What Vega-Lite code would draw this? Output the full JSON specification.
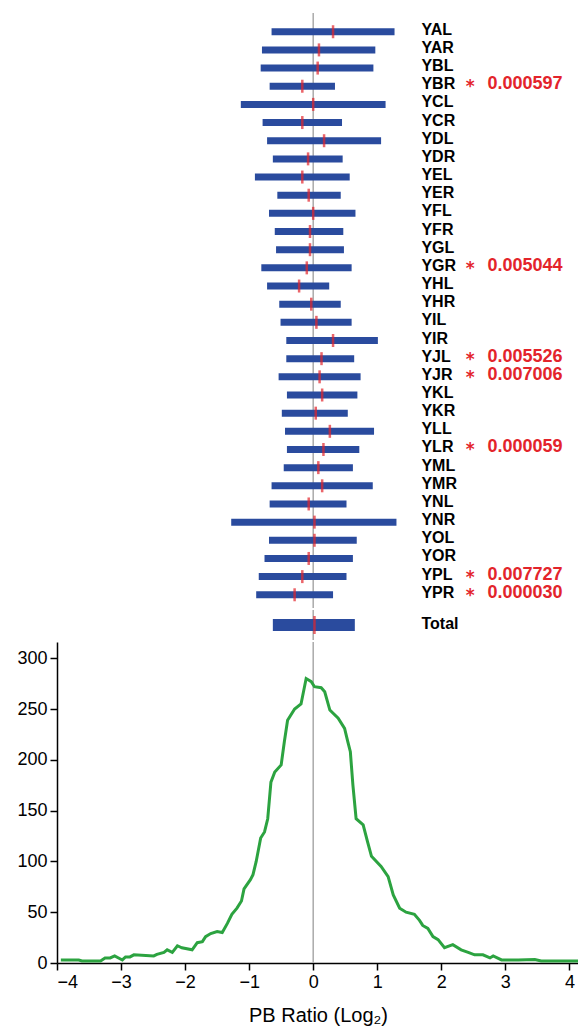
{
  "$schema": "https://vega.github.io/schema/vega-lite/v6.json",
  "padding": {"left": 16, "top": 12, "right": 0, "bottom": 2},
  "spacing": 0,
  "config": {
    "view": {"stroke": null},
    "font": "Liberation Sans",
    "axis": {"grid": false, "domainColor": "#000000", "tickColor": "#000000", "labelColor": "#000000", "titleColor": "#000000", "domainWidth": 1.5, "tickWidth": 1.5, "tickSize": 7, "labelPadding": 3, "labelFontSize": 18, "titleFontSize": 20, "titleFontWeight": "normal"}
  },
  "datasets": {
    "arms": [
      {"arm": "YAL", "lo": -0.65, "hi": 1.27, "med": 0.31},
      {"arm": "YAR", "lo": -0.80, "hi": 0.97, "med": 0.09},
      {"arm": "YBL", "lo": -0.82, "hi": 0.94, "med": 0.07},
      {"arm": "YBR", "lo": -0.68, "hi": 0.34, "med": -0.17, "p": "0.000597"},
      {"arm": "YCL", "lo": -1.13, "hi": 1.13, "med": 0.0},
      {"arm": "YCR", "lo": -0.79, "hi": 0.45, "med": -0.17},
      {"arm": "YDL", "lo": -0.72, "hi": 1.06, "med": 0.17},
      {"arm": "YDR", "lo": -0.63, "hi": 0.46, "med": -0.08},
      {"arm": "YEL", "lo": -0.91, "hi": 0.57, "med": -0.17},
      {"arm": "YER", "lo": -0.56, "hi": 0.43, "med": -0.07},
      {"arm": "YFL", "lo": -0.69, "hi": 0.66, "med": 0.0},
      {"arm": "YFR", "lo": -0.60, "hi": 0.47, "med": -0.05},
      {"arm": "YGL", "lo": -0.58, "hi": 0.48, "med": -0.05},
      {"arm": "YGR", "lo": -0.81, "hi": 0.60, "med": -0.10, "p": "0.005044"},
      {"arm": "YHL", "lo": -0.72, "hi": 0.25, "med": -0.22},
      {"arm": "YHR", "lo": -0.53, "hi": 0.43, "med": -0.03},
      {"arm": "YIL", "lo": -0.51, "hi": 0.60, "med": 0.05},
      {"arm": "YIR", "lo": -0.42, "hi": 1.01, "med": 0.31},
      {"arm": "YJL", "lo": -0.42, "hi": 0.64, "med": 0.13, "p": "0.005526"},
      {"arm": "YJR", "lo": -0.54, "hi": 0.74, "med": 0.10, "p": "0.007006"},
      {"arm": "YKL", "lo": -0.41, "hi": 0.69, "med": 0.14},
      {"arm": "YKR", "lo": -0.49, "hi": 0.54, "med": 0.04},
      {"arm": "YLL", "lo": -0.44, "hi": 0.95, "med": 0.26},
      {"arm": "YLR", "lo": -0.41, "hi": 0.72, "med": 0.16, "p": "0.000059"},
      {"arm": "YML", "lo": -0.46, "hi": 0.62, "med": 0.08},
      {"arm": "YMR", "lo": -0.65, "hi": 0.93, "med": 0.14},
      {"arm": "YNL", "lo": -0.68, "hi": 0.52, "med": -0.07},
      {"arm": "YNR", "lo": -1.28, "hi": 1.30, "med": 0.02},
      {"arm": "YOL", "lo": -0.69, "hi": 0.68, "med": 0.02},
      {"arm": "YOR", "lo": -0.76, "hi": 0.62, "med": -0.07},
      {"arm": "YPL", "lo": -0.85, "hi": 0.52, "med": -0.17, "p": "0.007727"},
      {"arm": "YPR", "lo": -0.89, "hi": 0.31, "med": -0.29, "p": "0.000030"}
    ],
    "total": [
      {"arm": "Total", "lo": -0.63, "hi": 0.65, "med": 0.02}
    ],
    "hist": [
      {"ratio": -3.94, "count": 3}, {"ratio": -3.66, "count": 3}, {"ratio": -3.61, "count": 2},
      {"ratio": -3.32, "count": 2}, {"ratio": -3.25, "count": 5}, {"ratio": -3.17, "count": 5},
      {"ratio": -3.10, "count": 7}, {"ratio": -2.98, "count": 3}, {"ratio": -2.93, "count": 6},
      {"ratio": -2.86, "count": 6}, {"ratio": -2.80, "count": 8}, {"ratio": -2.49, "count": 7},
      {"ratio": -2.44, "count": 8.5}, {"ratio": -2.33, "count": 10.5}, {"ratio": -2.28, "count": 13},
      {"ratio": -2.20, "count": 10.5}, {"ratio": -2.12, "count": 17}, {"ratio": -2.05, "count": 15},
      {"ratio": -1.89, "count": 13}, {"ratio": -1.81, "count": 20}, {"ratio": -1.73, "count": 21},
      {"ratio": -1.68, "count": 26}, {"ratio": -1.60, "count": 29}, {"ratio": -1.50, "count": 31},
      {"ratio": -1.42, "count": 30}, {"ratio": -1.34, "count": 39}, {"ratio": -1.27, "count": 48},
      {"ratio": -1.19, "count": 54}, {"ratio": -1.12, "count": 61}, {"ratio": -1.08, "count": 73},
      {"ratio": -0.98, "count": 82}, {"ratio": -0.94, "count": 87}, {"ratio": -0.89, "count": 100},
      {"ratio": -0.82, "count": 123}, {"ratio": -0.76, "count": 129}, {"ratio": -0.71, "count": 142},
      {"ratio": -0.66, "count": 178}, {"ratio": -0.60, "count": 188}, {"ratio": -0.50, "count": 195},
      {"ratio": -0.45, "count": 218}, {"ratio": -0.40, "count": 239}, {"ratio": -0.29, "count": 250},
      {"ratio": -0.19, "count": 255}, {"ratio": -0.11, "count": 280}, {"ratio": -0.03, "count": 277},
      {"ratio": 0.02, "count": 272}, {"ratio": 0.125, "count": 271}, {"ratio": 0.18, "count": 267},
      {"ratio": 0.26, "count": 249}, {"ratio": 0.39, "count": 241}, {"ratio": 0.49, "count": 231},
      {"ratio": 0.54, "count": 218}, {"ratio": 0.58, "count": 208}, {"ratio": 0.62, "count": 175},
      {"ratio": 0.67, "count": 142}, {"ratio": 0.78, "count": 136}, {"ratio": 0.85, "count": 119},
      {"ratio": 0.91, "count": 105}, {"ratio": 1.06, "count": 95}, {"ratio": 1.17, "count": 85},
      {"ratio": 1.25, "count": 67}, {"ratio": 1.35, "count": 54}, {"ratio": 1.45, "count": 50},
      {"ratio": 1.58, "count": 48}, {"ratio": 1.66, "count": 42}, {"ratio": 1.71, "count": 37},
      {"ratio": 1.79, "count": 34}, {"ratio": 1.87, "count": 26}, {"ratio": 1.95, "count": 23},
      {"ratio": 2.05, "count": 15}, {"ratio": 2.18, "count": 18}, {"ratio": 2.31, "count": 13},
      {"ratio": 2.42, "count": 10.5}, {"ratio": 2.52, "count": 8}, {"ratio": 2.65, "count": 8},
      {"ratio": 2.76, "count": 5}, {"ratio": 2.81, "count": 7}, {"ratio": 2.94, "count": 3},
      {"ratio": 3.2, "count": 3}, {"ratio": 3.46, "count": 3.5}, {"ratio": 3.56, "count": 2},
      {"ratio": 4.15, "count": 2}
    ]
  },
  "vconcat": [
    {
      "width": 522,
      "height": 595,
      "data": {"name": "arms"},
      "layer": [
        {
          "data": {"values": [{}]},
          "mark": {"type": "rule", "color": "#aaaaaa", "strokeWidth": 1.5},
          "encoding": {"x": {"datum": 0, "type": "quantitative", "scale": {"domain": [-4, 4.15], "nice": false, "zero": false}, "axis": null}}
        },
        {
          "mark": {"type": "bar", "size": 7, "color": "#2a4b9e"},
          "encoding": {
            "y": {"field": "arm", "type": "nominal", "sort": null, "axis": null, "scale": {"type": "band", "paddingInner": 0, "paddingOuter": 0.38, "align": 0.7}},
            "x": {"field": "lo", "type": "quantitative", "axis": null},
            "x2": {"field": "hi"}
          }
        },
        {
          "mark": {"type": "tick", "color": "#e3242b", "thickness": 2.5, "size": 13},
          "encoding": {
            "y": {"field": "arm", "type": "nominal", "sort": null, "axis": null},
            "x": {"field": "med", "type": "quantitative", "axis": null}
          }
        },
        {
          "mark": {"type": "text", "align": "left", "baseline": "middle", "dy": -2, "fontSize": 16, "fontWeight": "bold", "color": "#000000"},
          "encoding": {
            "y": {"field": "arm", "type": "nominal", "sort": null, "axis": null},
            "x": {"datum": 1.69, "type": "quantitative", "axis": null},
            "text": {"field": "arm"}
          }
        },
        {
          "transform": [{"filter": "datum.p"}],
          "mark": {"type": "text", "align": "left", "baseline": "middle", "dy": 1, "font": "DejaVu Sans", "fontSize": 17, "fontWeight": "bold", "color": "#e3242b"},
          "encoding": {
            "y": {"field": "arm", "type": "nominal", "sort": null, "axis": null},
            "x": {"datum": 2.38, "type": "quantitative", "axis": null},
            "text": {"value": "*"}
          }
        },
        {
          "transform": [{"filter": "datum.p"}],
          "mark": {"type": "text", "align": "left", "baseline": "middle", "dy": -2, "fontSize": 18, "fontWeight": "bold", "color": "#e3242b"},
          "encoding": {
            "y": {"field": "arm", "type": "nominal", "sort": null, "axis": null},
            "x": {"datum": 2.72, "type": "quantitative", "axis": null},
            "text": {"field": "p"}
          }
        }
      ]
    },
    {
      "width": 522,
      "height": 30,
      "data": {"name": "total"},
      "layer": [
        {
          "data": {"values": [{}]},
          "mark": {"type": "rule", "color": "#aaaaaa", "strokeWidth": 1.5},
          "encoding": {"x": {"datum": 0, "type": "quantitative", "scale": {"domain": [-4, 4.15], "nice": false, "zero": false}, "axis": null}}
        },
        {
          "mark": {"type": "bar", "size": 12, "color": "#2a4b9e"},
          "encoding": {
            "y": {"field": "arm", "type": "nominal", "axis": null, "scale": {"type": "band", "paddingInner": 0, "paddingOuter": 0}},
            "x": {"field": "lo", "type": "quantitative", "axis": null},
            "x2": {"field": "hi"}
          }
        },
        {
          "mark": {"type": "tick", "color": "#e3242b", "thickness": 2.5, "size": 18},
          "encoding": {
            "y": {"field": "arm", "type": "nominal", "axis": null},
            "x": {"field": "med", "type": "quantitative", "axis": null}
          }
        },
        {
          "mark": {"type": "text", "align": "left", "baseline": "middle", "dy": -1, "fontSize": 16, "fontWeight": "bold", "color": "#000000"},
          "encoding": {
            "y": {"field": "arm", "type": "nominal", "axis": null},
            "x": {"datum": 1.69, "type": "quantitative", "axis": null},
            "text": {"field": "arm"}
          }
        }
      ]
    },
    {
      "width": 522,
      "height": 321,
      "data": {"name": "hist"},
      "layer": [
        {
          "data": {"values": [{}]},
          "mark": {"type": "rule", "color": "#aaaaaa", "strokeWidth": 1.5},
          "encoding": {"x": {"datum": 0, "type": "quantitative", "scale": {"domain": [-4, 4.15], "nice": false, "zero": false}}}
        },
        {
          "mark": {"type": "line", "color": "#2ca340", "strokeWidth": 3},
          "encoding": {
            "x": {"field": "ratio", "type": "quantitative", "axis": {"values": [-4, -3, -2, -1, 0, 1, 2, 3, 4], "format": "d", "title": "PB Ratio  (Log₂)", "titlePadding": 14}},
            "y": {"field": "count", "type": "quantitative", "scale": {"domain": [0, 316], "nice": false}, "axis": {"values": [0, 50, 100, 150, 200, 250, 300], "format": "d", "title": null}}
          }
        }
      ]
    }
  ]
}
